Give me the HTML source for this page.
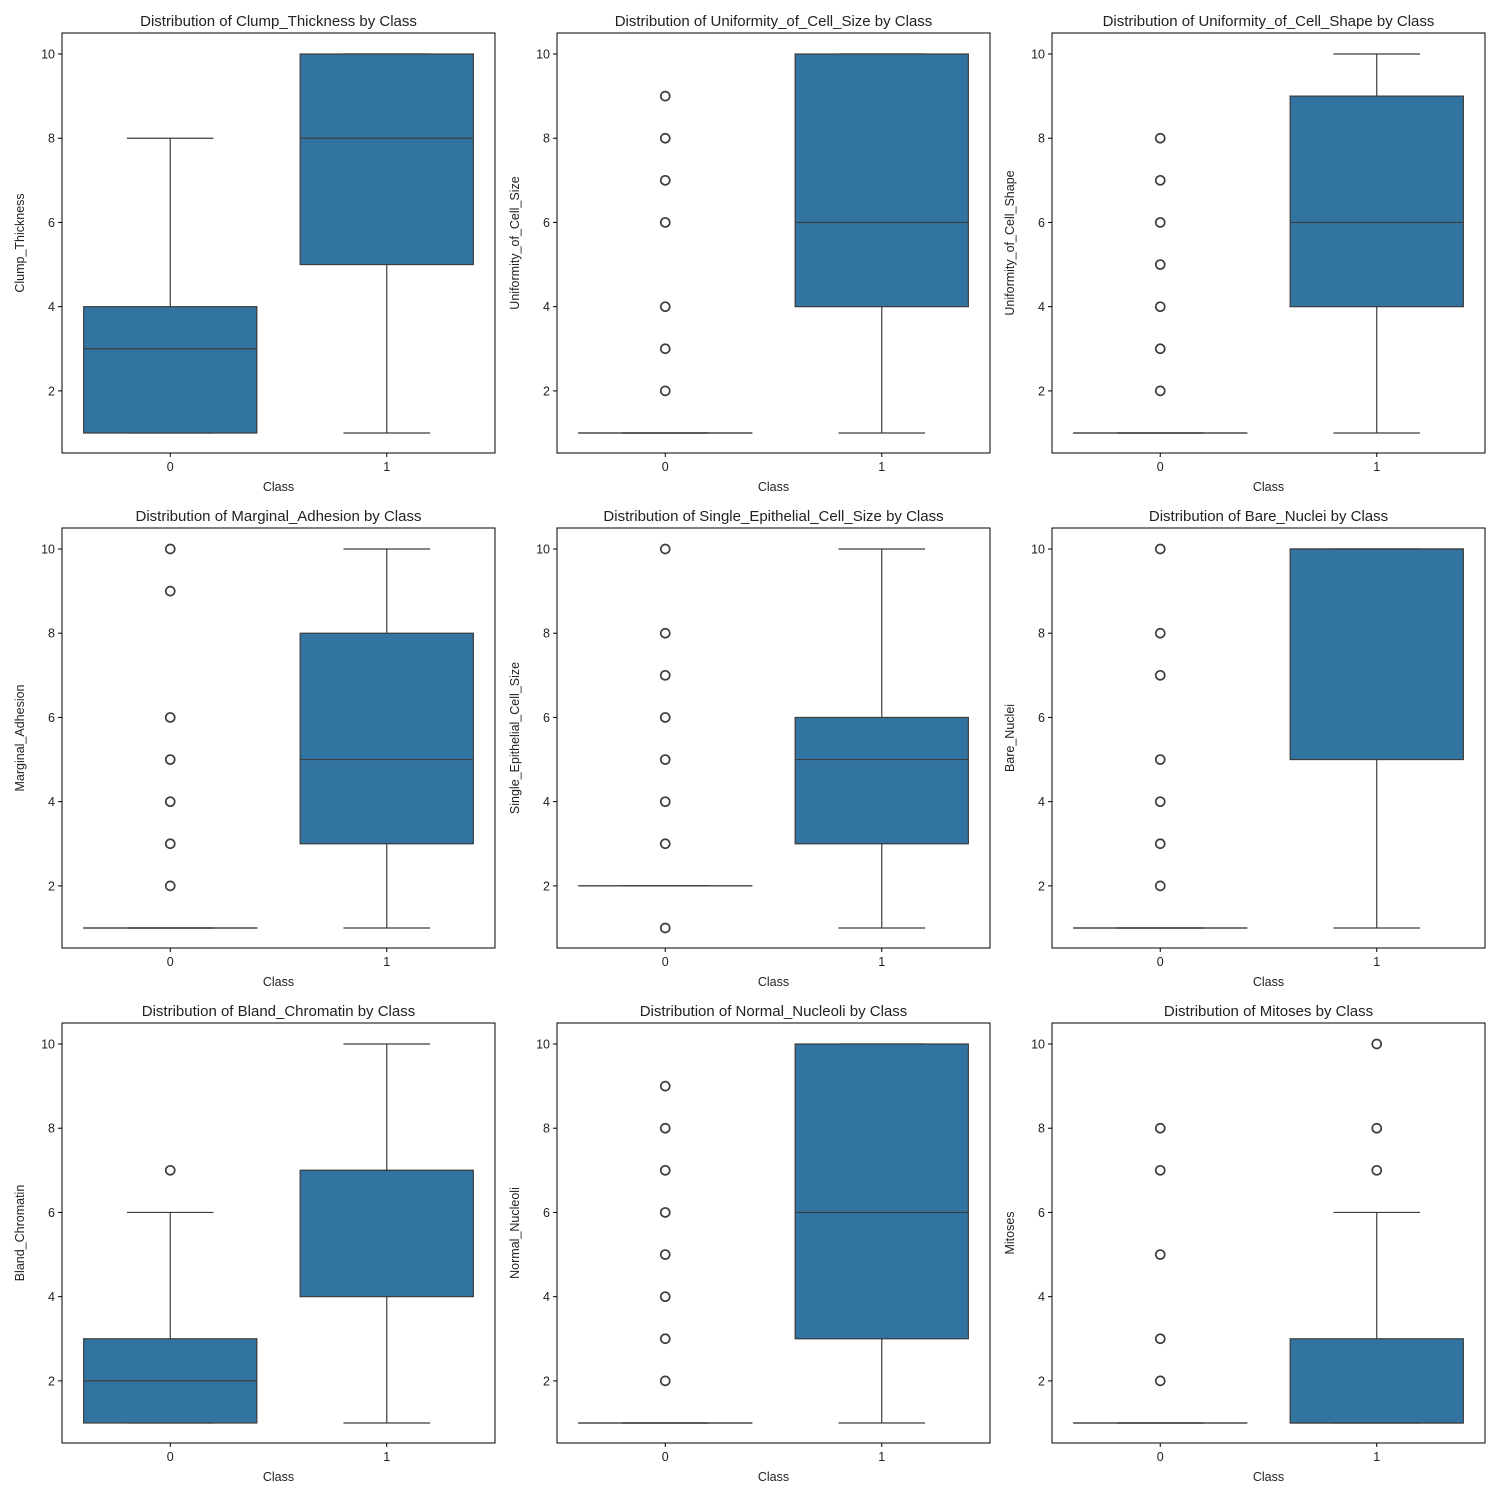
<!DOCTYPE html>
<html><head><meta charset="utf-8"><style>body{margin:0;background:#fff}svg text{font-family:"Liberation Sans","DejaVu Sans",sans-serif;fill:#222}</style></head>
<body>
<svg id="chart" width="1500" height="1500" xmlns="http://www.w3.org/2000/svg"></svg>
<script>
const features=["Clump_Thickness","Uniformity_of_Cell_Size","Uniformity_of_Cell_Shape","Marginal_Adhesion","Single_Epithelial_Cell_Size","Bare_Nuclei","Bland_Chromatin","Normal_Nucleoli","Mitoses"];
const categories=["0","1"];
// [q1, median, q3, whiskerLow, whiskerHigh]
const class0Stats=[[1,3,4,1,8],[1,1,1,1,1],[1,1,1,1,1],[1,1,1,1,1],[2,2,2,2,2],[1,1,1,1,1],[1,2,3,1,6],[1,1,1,1,1],[1,1,1,1,1]];
const class1Stats=[[5,8,10,1,10],[4,6,10,1,10],[4,6,9,1,10],[3,5,8,1,10],[3,5,6,1,10],[5,10,10,1,10],[4,7,7,1,10],[3,6,10,1,10],[1,1,3,1,6]];
const class0Outliers=[[],[9,8,7,6,4,3,2],[8,7,6,5,4,3,2],[10,9,6,5,4,3,2],[10,8,7,6,5,4,3,1],[10,8,7,5,4,3,2],[7],[9,8,7,6,5,4,3,2],[8,7,5,3,2]];
const class1Outliers=[[],[],[],[],[],[],[],[],[10,8,7]];
const yTicks=[2,4,6,8,10];
const NS="http://www.w3.org/2000/svg";
const svg=document.getElementById("chart");
function mk(tag,attrs,parent){const e=document.createElementNS(NS,tag);for(const k in attrs)e.setAttribute(k,attrs[k]);(parent||svg).appendChild(e);return e;}
const lefts=[62,557,1052],tops=[33,528,1023],W=433,H=420,color="#3274a1",line="#3d3d3d";
features.forEach((f,i)=>{
  const L=lefts[i%3],T=tops[Math.floor(i/3)];
  const g=mk("g",{});
  
  
  const ys=v=>T+400-(v-1)*379/9;
  const xs=c=>L+(c+0.5)/2*W;
  const stats=[class0Stats[i],class1Stats[i]],outs=[class0Outliers[i],class1Outliers[i]];
  stats.forEach((s,c)=>{
    const [q1,md,q3,lo,hi]=s;const cx=xs(c),bw=0.8*W/2,cw=0.4*W/2;
    const b=mk("g",{},g);
    
    
    mk("line",{x1:cx,x2:cx,y1:ys(q1),y2:ys(lo),stroke:line,"stroke-width":1.2},b);
    mk("line",{x1:cx,x2:cx,y1:ys(q3),y2:ys(hi),stroke:line,"stroke-width":1.2},b);
    mk("line",{x1:cx-cw/2,x2:cx+cw/2,y1:ys(lo),y2:ys(lo),stroke:line,"stroke-width":1.2},b);
    mk("line",{x1:cx-cw/2,x2:cx+cw/2,y1:ys(hi),y2:ys(hi),stroke:line,"stroke-width":1.2},b);
    mk("rect",{x:cx-bw/2,y:ys(q3),width:bw,height:Math.max(ys(q1)-ys(q3),0.01),fill:color,stroke:line,"stroke-width":1.2},b);
    mk("line",{x1:cx-bw/2,x2:cx+bw/2,y1:ys(md),y2:ys(md),stroke:line,"stroke-width":1.2},b);
    outs[c].forEach(o=>{const p=mk("circle",{cx:cx,cy:ys(o),r:4.5,fill:"none",stroke:line,"stroke-width":1.7},b);
      
      });
  });
  const fr=mk("rect",{x:L,y:T,width:W,height:H,fill:"none",stroke:"#000","stroke-width":1},g);
  
  
  yTicks.forEach(t=>{mk("line",{x1:L-4,x2:L,y1:ys(t),y2:ys(t),stroke:"#000"},g);
    const tx=mk("text",{x:L-7,y:ys(t)+4.5,"font-size":12.5,"text-anchor":"end"},g);tx.textContent=t;
    
    });
  categories.forEach((c,ci)=>{mk("line",{x1:xs(ci),x2:xs(ci),y1:T+H,y2:T+H+4,stroke:"#000"},g);
    const tx=mk("text",{x:xs(ci),y:T+H+18,"font-size":12.5,"text-anchor":"middle"},g);tx.textContent=c;
    
    });
  const ti=mk("text",{x:L+W/2,y:T-7,"font-size":15,"text-anchor":"middle"},g);ti.textContent="Distribution of "+f+" by Class";
  
  
  const xl=mk("text",{x:L+W/2,y:T+H+38,"font-size":12.5,"text-anchor":"middle"},g);xl.textContent="Class";
  
  
  const yl=mk("text",{x:0,y:0,"font-size":12.5,"text-anchor":"middle",transform:`translate(${L-38},${T+H/2}) rotate(-90)`},g);yl.textContent=f;
  
  
});
</script>
</body></html>
